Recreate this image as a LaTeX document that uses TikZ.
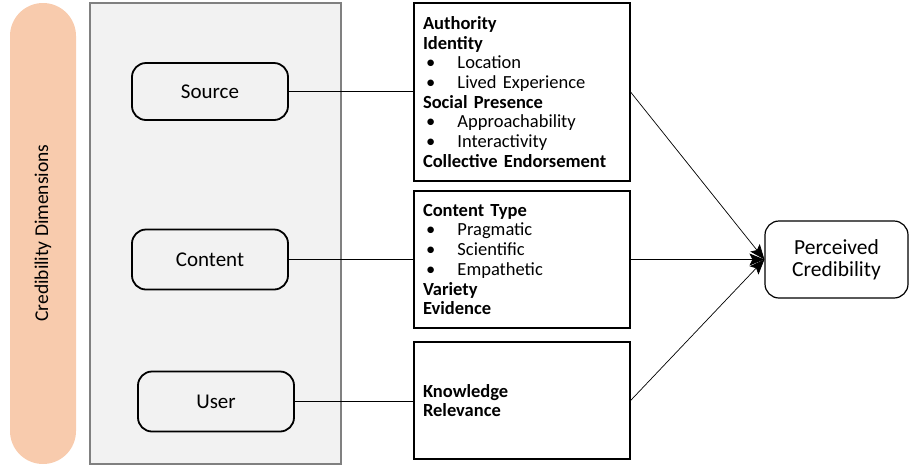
\documentclass[tikz,border=0pt]{standalone}
\usepackage{fontspec}
\setmainfont{Carlito}
\usetikzlibrary{arrows.meta}

\definecolor{pillpeach}{HTML}{F8CBAD}
\definecolor{panelgray}{HTML}{F2F2F2}
\definecolor{panelline}{HTML}{808080}

% one bullet line inside a factor box
\newcommand{\bitem}[1]{\hspace*{3pt}\makebox[31.5pt][l]{\textbullet}#1}

\begin{document}
\begin{tikzpicture}[x=1pt,y=-1pt,
	dimbox/.style={draw, line width=1.8pt, rounded corners=14pt, fill=panelgray,
		minimum width=156pt, minimum height=60pt, font=\fontsize{21}{24}\selectfont},
	factorbox/.style={draw, line width=1.2pt, fill=white, minimum width=216pt,
		text width=198pt, inner xsep=9pt, align=left,
		font=\fontsize{18.5}{19.7}\selectfont},
	link/.style={line width=0.9pt},
	feed/.style={line width=0.7pt, -{Stealth[length=15pt,width=12pt,inset=3pt]}}]
		\useasboundingbox (0,0) rectangle (910,467);

		% side label and grey panel
		\fill[pillpeach, rounded corners=33pt] (10,3) rectangle (76,464);
		\node[rotate=90, font=\fontsize{19.5}{22}\selectfont] (dimlabel) at (43,233) {Credibility Dimensions};
		\filldraw[fill=panelgray, draw=panelline, line width=1.2pt] (90,3) rectangle (341,464);

		% the three dimensions
		\node[dimbox, minimum height=57pt] (source) at (210,91.5) {Source};
		\node[dimbox] (content) at (210,259.5) {Content};
		\node[dimbox] (user) at (216,401.5) {User};

		% factor boxes
		\node[factorbox, minimum height=178pt] (srcfactors) at (522,92) {%
			\textbf{Authority}\\
			\textbf{Identity}\\
			\bitem{Location}\\
			\bitem{Lived Experience}\\
			\textbf{Social Presence}\\
			\bitem{Approachability}\\
			\bitem{Interactivity}\\
			\textbf{Collective Endorsement}};
		\node[factorbox, minimum height=137pt] (cntfactors) at (522,259.5) {%
			\textbf{Content Type}\\
			\bitem{Pragmatic}\\
			\bitem{Scientific}\\
			\bitem{Empathetic}\\
			\textbf{Variety}\\
			\textbf{Evidence}};
		\node[factorbox, minimum height=117pt] (usrfactors) at (522,400.5) {%
			\textbf{Knowledge}\\
			\textbf{Relevance}};

		% outcome
		\node[draw, line width=1.2pt, rounded corners=14pt, fill=white,
			minimum width=143pt, minimum height=77pt, align=center,
			font=\fontsize{21.5}{22}\selectfont] (perceived) at (836.5,259.5) {Perceived\\Credibility};

		\draw[link] (source.east) -- (source.east -| srcfactors.west);
		\draw[link] (content.east) -- (content.east -| cntfactors.west);
		\draw[link] (user.east) -- (user.east -| usrfactors.west);

		\draw[feed] (srcfactors.east) -- (perceived.west);
		\draw[feed] (cntfactors.east) -- (perceived.west);
		\draw[feed] (usrfactors.east) -- (perceived.west);
\end{tikzpicture}
\end{document}
